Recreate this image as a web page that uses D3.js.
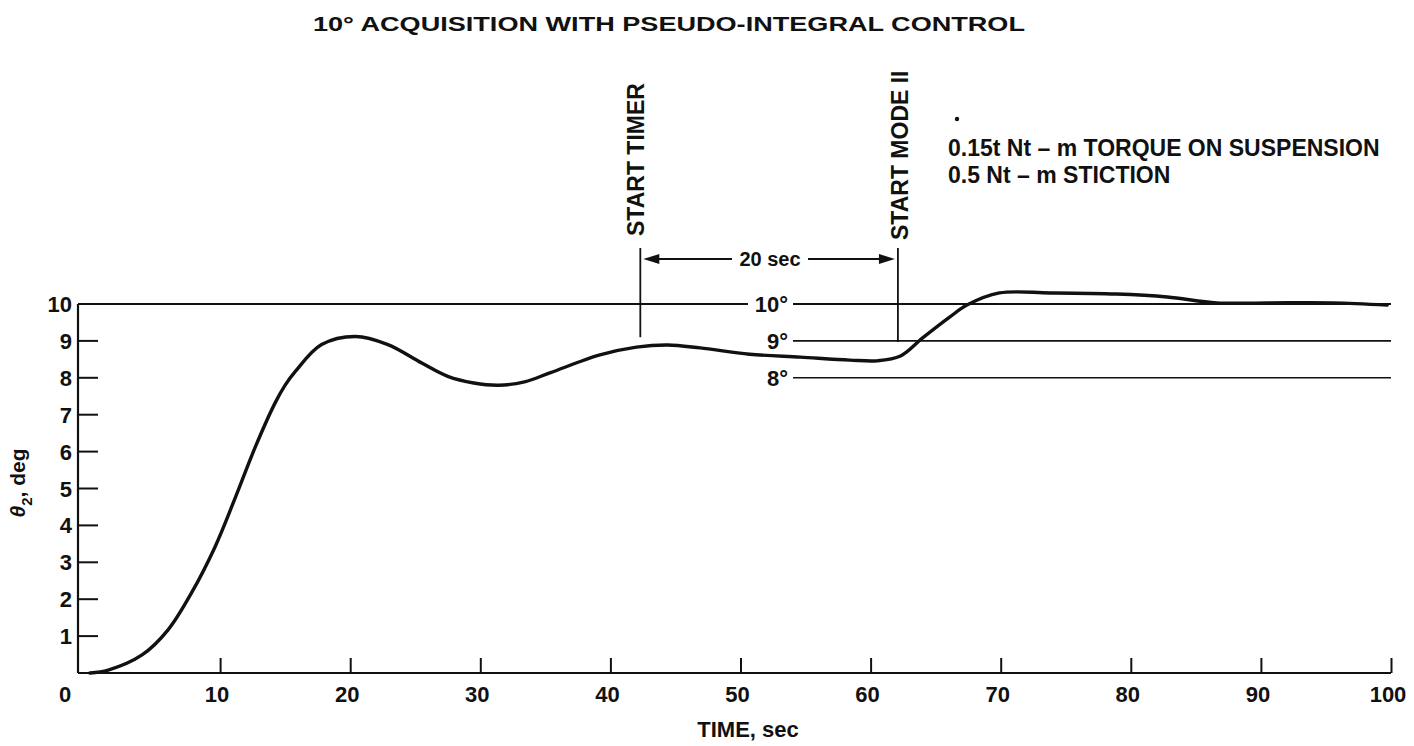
<!DOCTYPE html>
<html>
<head>
<meta charset="utf-8">
<script src="https://cdn.jsdelivr.net/npm/d3@7"></script>
<style>
  body { margin: 0; background: #fff; }
  text { font-family: "Liberation Sans", Arial, Helvetica, sans-serif; fill: #111; }
</style>
</head>
<body>
<svg id="chart"></svg>
<script>
// values
const timeSec = [0, 1.4, 4.0, 6.0, 7.8, 9.6, 11.1, 12.7, 14.2, 15.0, 15.8, 17.8, 20.4, 22.9, 25.5, 27.5,
  29.5, 31.4, 33.4, 35.4, 39.2, 42.0, 44.4, 46.9, 50.7, 54.6, 58.4, 60.5, 62.3, 64.0, 66.1, 67.4,
  69.9, 73.8, 78.9, 82.8, 86.6, 90.5, 95.5, 99.7];
const theta2 = [0, 0.08, 0.49, 1.17, 2.17, 3.41, 4.69, 6.12, 7.30, 7.80, 8.18, 8.90, 9.12, 8.90, 8.40, 8.04,
  7.86, 7.80, 7.89, 8.14, 8.62, 8.83, 8.89, 8.81, 8.64, 8.56, 8.48, 8.46, 8.59, 9.08, 9.65, 9.97,
  10.30, 10.30, 10.27, 10.19, 10.03, 10.03, 10.03, 9.97];
const xTicks = [10, 20, 30, 40, 50, 60, 70, 80, 90, 100];
const yTicks = [1, 2, 3, 4, 5, 6, 7, 8, 9, 10];
const refLevels = [10, 9, 8];
const refLabels = ["10°", "9°", "8°"];
const eventTimes = [42.3, 62.1];
const eventLabels = ["START TIMER", "START MODE II"];
const notes = ["0.15t Nt \u2013 m TORQUE ON SUSPENSION", "0.5 Nt \u2013 m STICTION"];

const W = 1414, H = 746;
const svg = d3.select("#chart").attr("width", W).attr("height", H);

const x = d3.scaleLinear().domain([0, 100]).range([90, 1391]);
const y = d3.scaleLinear().domain([0, 10]).range([673, 304]);
const frameLeft = 78; // axis corner sits a little left of t = 0 in the original

// title
svg.append("text")
  .attr("x", 669).attr("y", 31)
  .attr("text-anchor", "middle")
  .attr("font-family", "'Liberation Sans Narrow', 'Liberation Sans', Arial, sans-serif")
  .attr("font-size", 21).attr("font-weight", "bold")
  .attr("textLength", 712).attr("lengthAdjust", "spacingAndGlyphs")
  .text("10° ACQUISITION WITH PSEUDO-INTEGRAL CONTROL");

// axes frame
svg.append("line")
  .attr("x1", frameLeft).attr("x2", frameLeft)
  .attr("y1", y(10)).attr("y2", y(0))
  .attr("stroke", "#111").attr("stroke-width", 2.2);
svg.append("line")
  .attr("x1", frameLeft).attr("x2", x(100))
  .attr("y1", y(0)).attr("y2", y(0))
  .attr("stroke", "#111").attr("stroke-width", 2.2);

// x ticks + labels
const xAxis = d3.axisTop(x).tickValues(xTicks).tickSize(15).tickFormat("");
svg.append("g").attr("transform", `translate(0,${y(0)})`).call(xAxis)
  .call(g => g.select(".domain").remove())
  .call(g => g.selectAll("line").attr("stroke", "#111").attr("stroke-width", 2));
svg.append("g").selectAll("text").data(xTicks).join("text")
  .attr("x", d => x(d) - 3).attr("y", y(0) + 29)
  .attr("text-anchor", "middle").attr("font-size", 22).attr("font-weight", "bold")
  .text(d => d);
svg.append("text")
  .attr("x", 65).attr("y", y(0) + 29)
  .attr("text-anchor", "middle").attr("font-size", 22).attr("font-weight", "bold")
  .text("0");

// y ticks + labels
svg.append("g").selectAll("line").data(yTicks.filter(d => d < 10)).join("line")
  .attr("x1", frameLeft).attr("x2", frameLeft + 20)
  .attr("y1", d => y(d)).attr("y2", d => y(d))
  .attr("stroke", "#111").attr("stroke-width", 2);
svg.append("g").selectAll("text").data(yTicks).join("text")
  .attr("x", 72).attr("y", d => y(d) + 8)
  .attr("text-anchor", "end").attr("font-size", 22).attr("font-weight", "bold")
  .text(d => d);

// axis titles
svg.append("text")
  .attr("x", 748).attr("y", 737)
  .attr("text-anchor", "middle").attr("font-size", 22).attr("font-weight", "bold")
  .text("TIME, sec");
const yt = svg.append("text")
  .attr("transform", "translate(25,483) rotate(-90)")
  .attr("text-anchor", "middle").attr("font-size", 21).attr("font-weight", "bold");
yt.append("tspan").attr("font-style", "italic").text("θ");
yt.append("tspan").attr("font-size", 15).attr("dy", 7).text("2");
yt.append("tspan").attr("dy", -7).text(", deg");

// reference levels
const labelEnd = 788;
refLevels.forEach((lv, i) => {
  if (lv === 10) {
    svg.append("line").attr("x1", frameLeft).attr("x2", 748)
      .attr("y1", y(lv)).attr("y2", y(lv)).attr("stroke", "#111").attr("stroke-width", 2);
  }
  svg.append("line").attr("x1", 793).attr("x2", x(100))
    .attr("y1", y(lv)).attr("y2", y(lv))
    .attr("stroke", "#111").attr("stroke-width", lv === 10 ? 2 : 1.6);
  svg.append("text")
    .attr("x", labelEnd).attr("y", y(lv) + 8)
    .attr("text-anchor", "end").attr("font-size", 22).attr("font-weight", "bold")
    .text(refLabels[i]);
});

// event markers
const eventBottoms = [9.1, 8.97];
eventTimes.forEach((t, i) => {
  svg.append("line")
    .attr("x1", x(t)).attr("x2", x(t))
    .attr("y1", 248).attr("y2", y(eventBottoms[i]))
    .attr("stroke", "#111").attr("stroke-width", 1.8);
  svg.append("text")
    .attr("transform", `translate(${x(t) + (i === 0 ? 4 : 10)},${i === 0 ? 236 : 240}) rotate(-90)`)
    .attr("font-size", 23).attr("font-weight", "bold")
    .text(eventLabels[i]);
});

// 20 sec dimension arrow
const ay = 259;
const ax1 = x(eventTimes[0]) + 3, ax2 = x(eventTimes[1]) - 3;
svg.append("line").attr("x1", ax1 + 12).attr("x2", 732).attr("y1", ay).attr("y2", ay)
  .attr("stroke", "#111").attr("stroke-width", 1.8);
svg.append("line").attr("x1", 808).attr("x2", ax2 - 12).attr("y1", ay).attr("y2", ay)
  .attr("stroke", "#111").attr("stroke-width", 1.8);
svg.append("path").attr("d", `M${ax1},${ay}L${ax1 + 16},${ay - 5}L${ax1 + 16},${ay + 5}Z`).attr("fill", "#111");
svg.append("path").attr("d", `M${ax2},${ay}L${ax2 - 16},${ay - 5}L${ax2 - 16},${ay + 5}Z`).attr("fill", "#111");
svg.append("text")
  .attr("x", 770).attr("y", ay + 7)
  .attr("text-anchor", "middle").attr("font-size", 20).attr("font-weight", "bold")
  .text("20 sec");

// notes
svg.append("circle").attr("cx", 957).attr("cy", 119).attr("r", 2.2).attr("fill", "#111");
svg.append("g").selectAll("text").data(notes).join("text")
  .attr("x", 948).attr("y", (d, i) => 156 + i * 27)
  .attr("font-size", 23).attr("font-weight", "bold")
  .text(d => d);

// response curve
const line = d3.line()
  .x((d, i) => x(timeSec[i]))
  .y(d => y(d))
  .curve(d3.curveCatmullRom.alpha(0.5));
svg.append("path")
  .datum(theta2)
  .attr("d", line)
  .attr("fill", "none")
  .attr("stroke", "#111")
  .attr("stroke-width", 3.4)
  .attr("stroke-linejoin", "round")
  .attr("stroke-linecap", "round");
</script>
</body>
</html>
